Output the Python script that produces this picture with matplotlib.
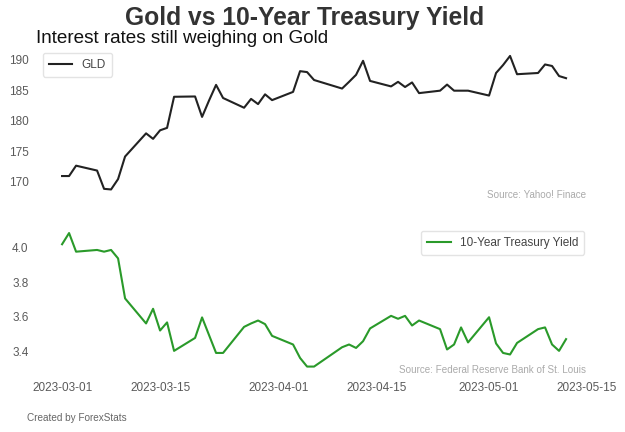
import numpy as np
import pandas as pd
import matplotlib
matplotlib.use("Agg")
import matplotlib.pyplot as plt
import matplotlib.dates as mdates

plt.rcParams['font.family'] = ['Liberation Sans', 'DejaVu Sans']

# data (business days, Good Friday missing)
dates = ['2023-03-01', '2023-03-02', '2023-03-03', '2023-03-06', '2023-03-07',
         '2023-03-08', '2023-03-09', '2023-03-10', '2023-03-13', '2023-03-14',
         '2023-03-15', '2023-03-16', '2023-03-17', '2023-03-20', '2023-03-21',
         '2023-03-22', '2023-03-23', '2023-03-24', '2023-03-27', '2023-03-28',
         '2023-03-29', '2023-03-30', '2023-03-31', '2023-04-03', '2023-04-04',
         '2023-04-05', '2023-04-06', '2023-04-10', '2023-04-11', '2023-04-12',
         '2023-04-13', '2023-04-14', '2023-04-17', '2023-04-18', '2023-04-19',
         '2023-04-20', '2023-04-21', '2023-04-24', '2023-04-25', '2023-04-26',
         '2023-04-27', '2023-04-28', '2023-05-01', '2023-05-02', '2023-05-03',
         '2023-05-04', '2023-05-05', '2023-05-08', '2023-05-09', '2023-05-10',
         '2023-05-11', '2023-05-12']

gld = [170.9, 170.9, 172.6, 171.8, 168.8,
       168.7, 170.4, 174.1, 177.9, 177.0,
       178.4, 178.8, 183.9, 183.95, 180.6,
       183.3, 185.85, 183.7, 182.1, 183.55,
       182.7, 184.3, 183.35, 184.7, 188.1,
       187.95, 186.65, 185.25, 186.35, 187.5,
       189.8, 186.5, 185.6, 186.35, 185.5,
       186.25, 184.5, 184.9, 185.9, 184.9,
       184.9, 184.9, 184.1, 187.8, 189.1,
       190.6, 187.6, 187.8, 189.2, 188.95,
       187.3, 186.95]

yld = [4.02, 4.085, 3.977, 3.987, 3.977,
       3.987, 3.938, 3.706, 3.561, 3.646,
       3.52, 3.567, 3.402, 3.477, 3.596,
       3.493, 3.39, 3.39, 3.541, 3.561,
       3.578, 3.557, 3.489, 3.439, 3.361,
       3.311, 3.311, 3.423, 3.439, 3.419,
       3.458, 3.532, 3.605, 3.588, 3.605,
       3.549, 3.578, 3.528, 3.41, 3.439,
       3.538, 3.451, 3.597, 3.445, 3.39,
       3.381, 3.448, 3.528, 3.538, 3.439,
       3.402, 3.47]

df = pd.DataFrame({'Date': pd.to_datetime(dates), 'GLD': gld, 'DGS10': yld})

fig = plt.figure(figsize=(6.25, 4.32), dpi=100)
ax1 = fig.add_axes([0.059, 0.546, 0.887, 0.340])
ax2 = fig.add_axes([0.059, 0.136, 0.887, 0.340], sharex=ax1)

ax1.plot(df['Date'], df['GLD'], color='#222222', lw=1.5, label='GLD')
ax2.plot(df['Date'], df['DGS10'], color='#2a9a2a', lw=1.5, label='10-Year Treasury Yield')

tick_col = '#5a5a5a'
for ax in (ax1, ax2):
    for s in ax.spines.values():
        s.set_visible(False)
    ax.tick_params(length=0, labelsize=8.5, labelcolor=tick_col, pad=6)

ax1.set_yticks([170, 175, 180, 185, 190])
ax2.set_yticks([3.4, 3.6, 3.8, 4.0])
ax2.set_yticklabels(['3.4', '3.6', '3.8', '4.0'])
ax2.xaxis.set_major_locator(mdates.DayLocator(bymonthday=[1, 15]))
ax2.xaxis.set_major_formatter(mdates.DateFormatter('%Y-%m-%d'))
plt.setp(ax1.get_xticklabels(), visible=False)

leg1 = ax1.legend(loc='upper left', fontsize=8.5, frameon=True, borderpad=0.5,
                  bbox_to_anchor=(0.0, 1.015))
leg2 = ax2.legend(loc='upper right', fontsize=8.5, frameon=True, borderpad=0.5,
                  bbox_to_anchor=(0.998, 1.01))
for leg in (leg1, leg2):
    leg.get_frame().set_edgecolor('#dddddd')
    for t in leg.get_texts():
        t.set_color('#444444')

ax1.text(0.99, 0.01, 'Source: Yahoo! Finace', transform=ax1.transAxes,
         ha='right', va='center', fontsize=7.1, color='#aaaaaa')
ax2.text(0.99, 0.02, 'Source: Federal Reserve Bank of St. Louis', transform=ax2.transAxes,
         ha='right', va='center', fontsize=7.1, color='#aaaaaa')

fig.text(0.487, 0.958, 'Gold vs 10-Year Treasury Yield', ha='center', va='center',
         fontsize=17.7, fontweight='bold', color='#333333')
fig.text(0.057, 0.912, 'Interest rates still weighing on Gold', ha='left', va='center',
         fontsize=13.6, color='#111111')
fig.text(0.043, 0.032, 'Created by ForexStats', ha='left', va='center',
         fontsize=7.2, color='#666666')

fig.savefig('out.png', dpi=100, facecolor='white')
